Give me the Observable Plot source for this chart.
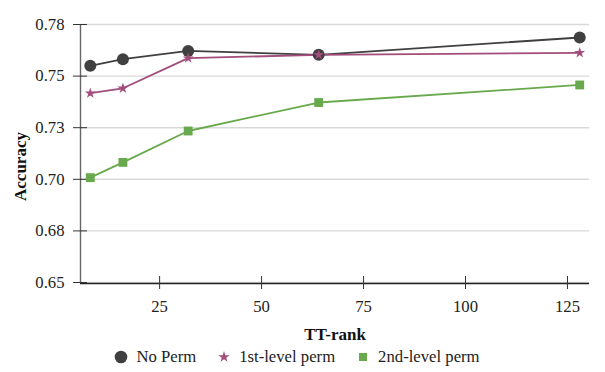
<!DOCTYPE html>
<html>
<head>
<meta charset="utf-8">
<script src="https://cdn.jsdelivr.net/npm/d3@7"></script>
<script src="https://cdn.jsdelivr.net/npm/@observablehq/plot@0.6"></script>
<style>
  html, body { margin: 0; padding: 0; background: #fff; }
  #chart { width: 605px; font-family: "Liberation Serif", "Times New Roman", Times, "DejaVu Serif", serif; }
  #legend { display: flex; justify-content: center; align-items: center; height: 30px; font-size: 16.7px; color: #222; transform: translateX(-6px); }
  .item { display: flex; align-items: center; margin: 0 10px; }
  .item svg { margin-right: 7px; }
</style>
</head>
<body>
<div id="chart"></div>
<script>
const ranks = [8, 16, 32, 64, 128];
const noPerm = [0.7550, 0.7582, 0.7622, 0.7603, 0.7687];
const firstPerm = [0.7417, 0.7441, 0.7587, 0.7603, 0.7613];
const secondPerm = [0.7008, 0.7082, 0.7234, 0.7372, 0.7457];
const seriesNames = ["No Perm", "1st-level perm", "2nd-level perm"];
const seriesColors = ["#404040", "#a24d7b", "#67a94c"];
const seriesSymbols = ["circle", "star", "square"];
const seriesR = [6, 3.4, 5.0];
const xTicks = [25, 50, 75, 100, 125];
const yTicks = [0.65, 0.675, 0.70, 0.725, 0.75, 0.775];
const yTickLabels = ["0.65", "0.68", "0.70", "0.73", "0.75", "0.78"];
const xLabel = "TT-rank";
const yLabel = "Accuracy";

const seriesValues = [noPerm, firstPerm, secondPerm];
const data = seriesNames.flatMap((s, i) => ranks.map((r, j) => ({series: s, rank: r, acc: seriesValues[i][j]})));

const xDomain = [5.6, 130.4];
const yDomain = [0.65, 0.775];
const font = "'Liberation Serif', 'Times New Roman', Times, 'DejaVu Serif', serif";

const marks = [
  Plot.gridY(yTicks, {stroke: "#d9d9d9", strokeOpacity: 1, strokeWidth: 1.4}),
  Plot.ruleX([xDomain[0]], {stroke: "#666", strokeWidth: 1.4}),
  Plot.ruleY([yDomain[0]], {stroke: "#222", strokeWidth: 1.4, dy: 1}),
  Plot.axisY({ticks: yTicks, tickSize: 14, dx: 7, tickFormat: () => "", stroke: "#333", label: null}),
  Plot.axisY({ticks: yTicks, tickSize: 0, tickPadding: 16, fontSize: 16.7, fill: "#222",
    tickFormat: d => yTickLabels[yTicks.findIndex(t => Math.abs(t - d) < 1e-9)], label: null}),
  Plot.axisX({ticks: xTicks, tickSize: 13, dy: -6, tickFormat: () => "", stroke: "#333", label: null}),
  Plot.axisX({ticks: xTicks, tickSize: 0, tickPadding: 18, fontSize: 16.7, fill: "#222", label: null}),
  Plot.text([xLabel], {frameAnchor: "bottom", lineAnchor: "middle", textAnchor: "middle", dy: 52, text: d => d, fontSize: 17, fontWeight: "bold", fill: "#111"}),
  Plot.text([yLabel], {frameAnchor: "left", lineAnchor: "middle", textAnchor: "middle", dx: -60, dy: 13, rotate: -90, text: d => d, fontSize: 17, fontWeight: "bold", fill: "#111"})
];
seriesNames.forEach((s, i) => {
  const rows = data.filter(d => d.series === s);
  marks.push(Plot.line(rows, {x: "rank", y: "acc", stroke: seriesColors[i], strokeWidth: 1.8}));
});
seriesNames.forEach((s, i) => {
  const rows = data.filter(d => d.series === s);
  marks.push(Plot.dot(rows, {x: "rank", y: "acc", symbol: seriesSymbols[i], r: seriesR[i], fill: seriesColors[i], stroke: "none"}));
});

const plot = Plot.plot({
  width: 605,
  height: 342,
  marginLeft: 80,
  marginRight: 16,
  marginTop: 24,
  marginBottom: 60,
  style: {fontFamily: font, fontSize: "16.7px", background: "#fff", overflow: "visible"},
  x: {domain: xDomain, axis: null},
  y: {domain: yDomain, axis: null},
  marks
});
const chart = document.getElementById("chart");
chart.appendChild(plot);

const legend = document.createElement("div");
legend.id = "legend";
seriesNames.forEach((s, i) => {
  const item = document.createElement("div");
  item.className = "item";
  const sz = 16;
  const svg = d3.create("svg").attr("width", sz).attr("height", sz);
  const sym = [d3.symbolCircle, d3.symbolStar, d3.symbolSquare][i];
  const symSize = [Math.PI * 6.3 * 6.3, Math.PI * 3.6 * 3.6, 64][i];
  svg.append("path").attr("transform", `translate(${sz/2},${sz/2})`)
    .attr("d", d3.symbol(sym, symSize)()).attr("fill", seriesColors[i]);
  item.appendChild(svg.node());
  const t = document.createElement("span");
  t.textContent = s;
  item.appendChild(t);
  legend.appendChild(item);
});
chart.appendChild(legend);
</script>
</body>
</html>
